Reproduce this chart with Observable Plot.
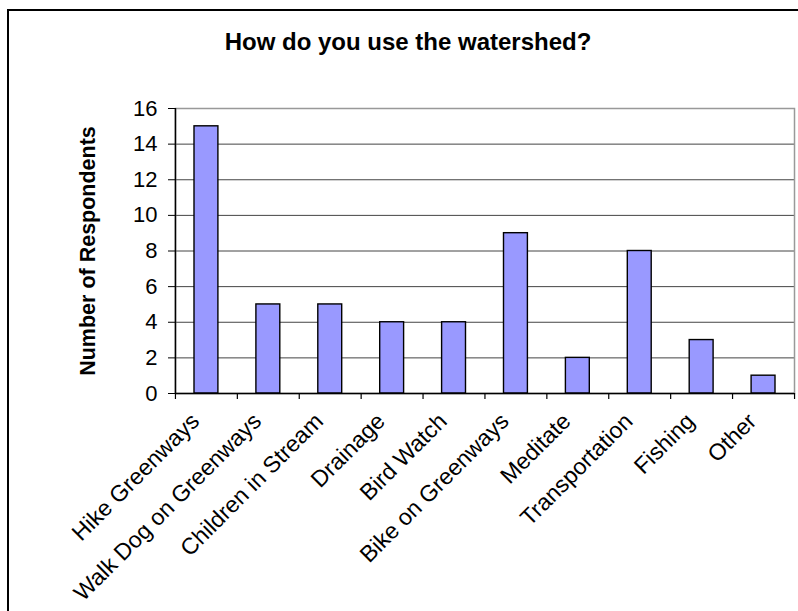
<!DOCTYPE html>
<html>
<head>
<meta charset="utf-8">
<script src="https://cdn.jsdelivr.net/npm/d3@7"></script>
<script src="https://cdn.jsdelivr.net/npm/@observablehq/plot@0.6"></script>
<style>
  html, body { margin: 0; padding: 0; background: #fff; overflow: hidden; }
  #wrap { position: relative; width: 798px; height: 611px; overflow: hidden; font-family: Arial, "Liberation Sans", sans-serif; }
  #border { position: absolute; left: 7px; top: 9px; width: 820px; height: 640px; border: 2px solid #000; box-sizing: border-box; }
  #title { position: absolute; left: 0; top: 30px; width: 816px; text-align: center; font-weight: bold; font-size: 24px; line-height: 24px; color: #000; }
  #chart { position: absolute; left: 0; top: 0; }
</style>
</head>
<body>
<div id="wrap">
  <div id="border"></div>
  <div id="chart"></div>
  <div id="title">How do you use the watershed?</div>
</div>
<script>
const categories = ["Hike Greenways", "Walk Dog on Greenways", "Children in Stream", "Drainage", "Bird Watch", "Bike on Greenways", "Meditate", "Transportation", "Fishing", "Other"];
const counts = [15, 5, 5, 4, 4, 9, 2, 8, 3, 1];
const yTicks = [0, 2, 4, 6, 8, 10, 12, 14, 16];
const yLabel = "Number of Respondents";

const data = categories.map((c, i) => ({category: c, count: counts[i]}));
const half = 31;

const chart = Plot.plot({
  width: 798,
  height: 611,
  marginLeft: 175,
  marginRight: 4,
  marginTop: 108,
  marginBottom: 218,
  style: {fontFamily: 'Arial, "Liberation Sans", sans-serif', background: "transparent", color: "#000"},
  x: {domain: categories, padding: 0, round: false},
  y: {domain: [0, 16], ticks: yTicks},
  marks: [
    Plot.gridY(yTicks.slice(1, -1), {stroke: "#444", strokeOpacity: 1, strokeWidth: 1}),
    Plot.frame({stroke: "#999", strokeWidth: 1.5}),
    Plot.barY(data, {x: "category", y: "count", fill: "#9999FF", stroke: "#000", strokeWidth: 1.4, insetLeft: 19, insetRight: 19}),
    Plot.ruleY([0], {stroke: "#000", strokeWidth: 1.5}),
    Plot.ruleX(categories.slice(0, 1), {x: d => d, dx: -half, stroke: "#000", strokeWidth: 1.5}),
    Plot.ruleX(categories, {x: d => d, y1: () => 0, y2: () => 0, dx: -half, insetBottom: -6, stroke: "#000", strokeWidth: 1.2}),
    Plot.ruleX(categories.slice(-1), {x: d => d, y1: () => 0, y2: () => 0, dx: half, insetBottom: -6, stroke: "#000", strokeWidth: 1.2}),
    Plot.axisY(yTicks, {tickSize: 7, tickPadding: 11, fontSize: 22, stroke: "#000", label: null}),
    Plot.axisX({tickSize: 0, tickPadding: 24, tickRotate: -45, fontSize: 23, dx: -11, label: null}),
    Plot.text([yLabel], {text: d => d, frameAnchor: "left", dx: -87, rotate: -90, fontSize: 21.5, fontWeight: "bold", textAnchor: "middle", lineAnchor: "middle"})
  ]
});
document.getElementById("chart").appendChild(chart);
</script>
</body>
</html>
